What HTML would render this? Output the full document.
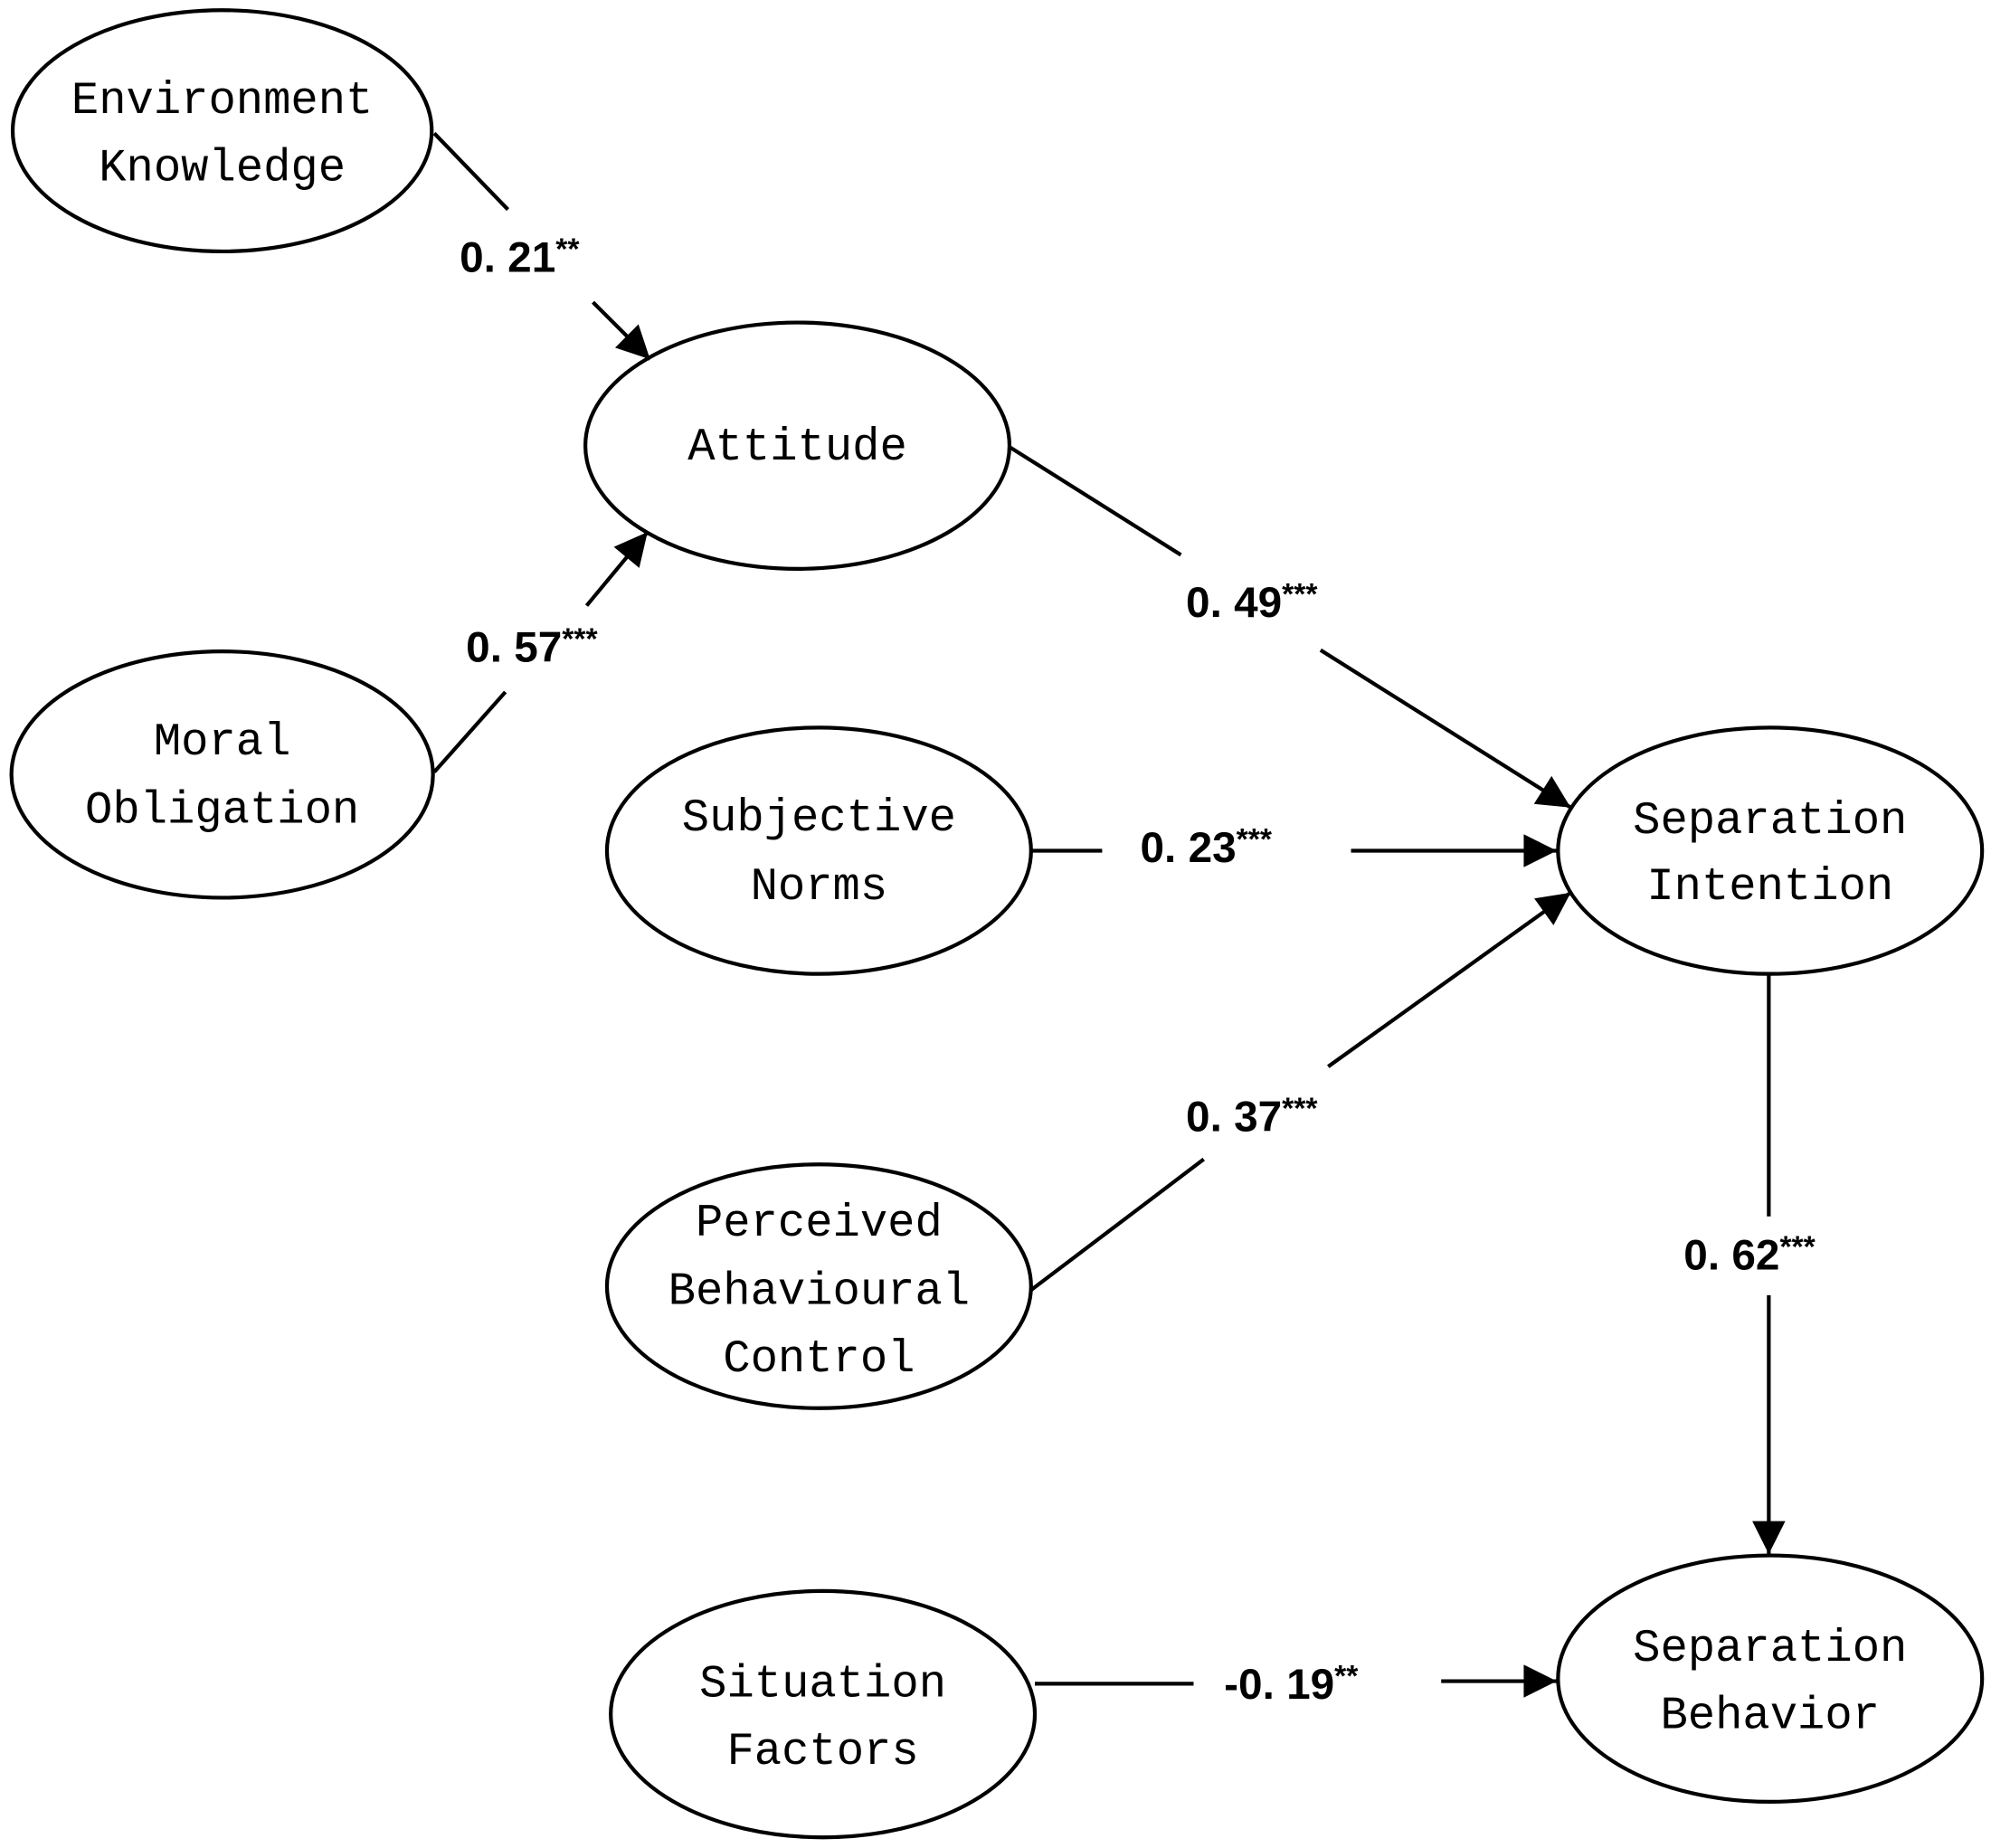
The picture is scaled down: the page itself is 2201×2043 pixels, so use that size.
<!DOCTYPE html>
<html><head><meta charset="utf-8"><style>html,body{margin:0;padding:0;background:#fff}svg{display:block}</style></head>
<body>
<svg width="2201" height="2043" viewBox="0 0 1568 1455.4" preserveAspectRatio="none" xmlns="http://www.w3.org/2000/svg">
<defs><marker id="a" markerWidth="10" markerHeight="10" refX="9" refY="5" orient="auto" markerUnits="userSpaceOnUse" viewBox="0 0 10 10"><path d="M0,0 L10,5 L0,10 z" fill="#000"/></marker>
<marker id="b" viewBox="0 0 10 10" refX="10" refY="5" markerWidth="30" markerHeight="26" orient="auto" markerUnits="userSpaceOnUse"><path d="M0,0 L10,5 L0,10 z" fill="#000"/></marker></defs>
<g fill="none" stroke="#000" stroke-width="3">
<ellipse cx="175" cy="103" rx="165" ry="95"/>
<ellipse cx="628" cy="351" rx="167" ry="97"/>
<ellipse cx="175" cy="610" rx="166" ry="97"/>
<ellipse cx="645" cy="670" rx="167" ry="97"/>
<ellipse cx="1394" cy="670" rx="167" ry="97"/>
<ellipse cx="645" cy="1013" rx="167" ry="96"/>
<ellipse cx="648" cy="1350" rx="167" ry="97"/>
<ellipse cx="1394" cy="1322" rx="167" ry="97"/>
<line x1="342" y1="105" x2="400" y2="165"/>
<line x1="467" y1="238" x2="512" y2="283" marker-end="url(#b)"/>
<line x1="342" y1="608" x2="398" y2="545"/>
<line x1="462" y1="477" x2="510" y2="419" marker-end="url(#b)"/>
<line x1="795" y1="352" x2="930" y2="437"/>
<line x1="1040" y1="512" x2="1237" y2="636" marker-end="url(#b)"/>
<line x1="812" y1="670" x2="868" y2="670"/>
<line x1="1064" y1="670" x2="1226" y2="670" marker-end="url(#b)"/>
<line x1="812" y1="1016" x2="948" y2="913"/>
<line x1="1046" y1="840" x2="1237" y2="703" marker-end="url(#b)"/>
<line x1="1393" y1="768" x2="1393" y2="958"/>
<line x1="1393" y1="1020" x2="1393" y2="1224" marker-end="url(#b)"/>
<line x1="815" y1="1326" x2="940" y2="1326"/>
<line x1="1135" y1="1324" x2="1226" y2="1324" marker-end="url(#b)"/>
</g>
<g font-family="Liberation Mono, monospace" font-size="36" text-anchor="middle" fill="#000">
<text x="175" y="89">Environment</text><text x="175" y="142">Knowledge</text>
<text x="628" y="362">Attitude</text>
<text x="175" y="594">Moral</text><text x="175" y="648">Obligation</text>
<text x="645" y="654">Subjective</text><text x="645" y="708">Norms</text>
<text x="1394" y="656">Separation</text><text x="1394" y="708">Intention</text>
<text x="645" y="973">Perceived</text><text x="645" y="1027">Behavioural</text><text x="645" y="1080">Control</text>
<text x="648" y="1336">Situation</text><text x="648" y="1389">Factors</text>
<text x="1394" y="1308">Separation</text><text x="1394" y="1361">Behavior</text>
</g>
<g font-family="Liberation Sans, sans-serif" font-size="34" font-weight="bold" fill="#000">
<text x="362" y="214">0. 21<tspan font-size="24" dy="-10">**</tspan></text>
<text x="367" y="521">0. 57<tspan font-size="24" dy="-10">***</tspan></text>
<text x="934" y="486">0. 49<tspan font-size="24" dy="-10">***</tspan></text>
<text x="898" y="679">0. 23<tspan font-size="24" dy="-10">***</tspan></text>
<text x="934" y="891">0. 37<tspan font-size="24" dy="-10">***</tspan></text>
<text x="1326" y="1000">0. 62<tspan font-size="24" dy="-10">***</tspan></text>
<text x="964" y="1338">-0. 19<tspan font-size="24" dy="-10">**</tspan></text>
</g>
</svg>
</body></html>
